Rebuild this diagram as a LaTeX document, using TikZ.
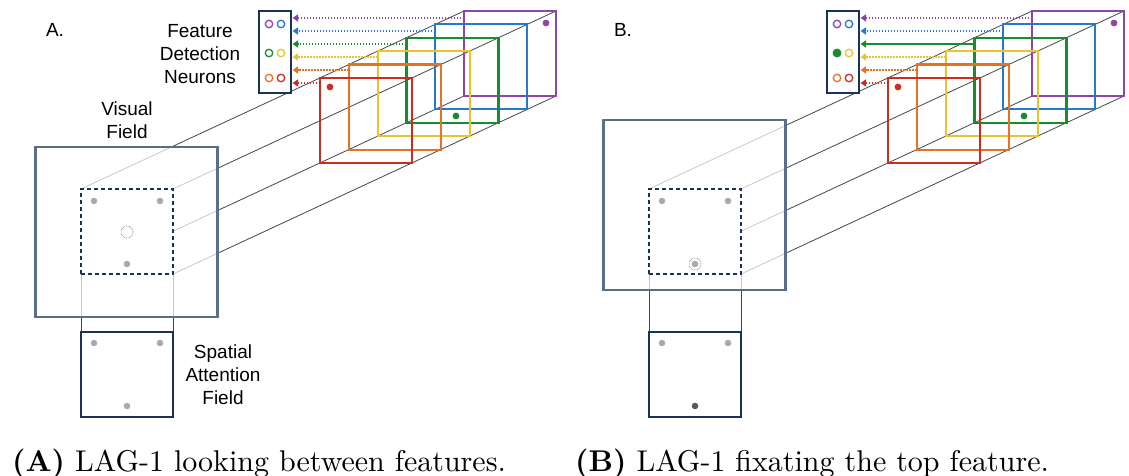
\documentclass[tikz,border=0pt]{standalone}
\usepackage{fontspec}
\setsansfont{Liberation Sans}
\newfontfamily\capfont{lmroman10-regular}[Extension=.otf, BoldFont=lmroman10-bold]
\usetikzlibrary{arrows.meta}
\pgfdeclarelayer{lines}
\pgfdeclarelayer{veil}
\pgfsetlayers{lines,veil,main}
\definecolor{cpur}{RGB}{140,70,170}
\definecolor{cblu}{RGB}{40,120,205}
\definecolor{cgrn}{RGB}{25,140,50}
\definecolor{cyel}{RGB}{235,195,45}
\definecolor{cora}{RGB}{230,115,35}
\definecolor{cred}{RGB}{205,45,30}
\definecolor{cnavy}{RGB}{25,50,90}
\definecolor{cvf}{RGB}{90,110,140}
\definecolor{cdot}{RGB}{170,170,170}
\definecolor{cline}{RGB}{70,70,70}
\tikzset{
  sq/.style={draw, line width=2.2pt, minimum width=92pt, minimum height=85pt, inner sep=0pt, outer sep=0pt},
  dsq/.style={draw=cnavy, fill=white, line width=2.6pt, dash pattern=on 4pt off 3pt, minimum width=92pt, minimum height=85pt, inner sep=0pt, outer sep=0pt},
  safield/.style={draw=cnavy, fill=white, line width=2.6pt, minimum width=92pt, minimum height=85pt, inner sep=0pt, outer sep=0pt},
  vfield/.style={draw=cvf, fill=white, fill opacity=0.7, line width=2.2pt, minimum width=182pt, minimum height=170pt, inner sep=0pt, outer sep=0pt},
  nbox/.style={draw=cnavy, fill=white, line width=2.6pt, minimum width=32pt, minimum height=82pt, inner sep=0pt, outer sep=0pt},
  neu/.style={circle, line width=1.3pt, minimum size=7.5pt, inner sep=0pt},
  persp/.style={draw=cline, line width=0.8pt},
  arr/.style={line width=2pt, dash pattern=on 1.5pt off 1.5pt, -{Triangle[length=5.5pt,width=7pt]}, shorten >=1.5pt},
  solidarr/.style={line width=2pt, -{Triangle[length=5.5pt,width=7pt]}, shorten >=1.5pt},
  lbl/.style={font={\sffamily\fontsize{19}{23}\selectfont}, align=center, inner sep=0pt},
  captxt/.style={font={\capfont\fontsize{30}{36}\selectfont}, inner sep=0pt, anchor=base west},
}
% #1 prefix, #2 xshift, #3 vf center y, #4 green arrow style, #5 green neuron fill, #6 label, #7 bottom attention dot colour
\newcommand\drawpanel[7]{%
\begin{scope}[xshift=#2]
  \node[dsq] (#1dash) at (127,231.5) {};
  \node[safield] (#1sa) at (127,374.5) {};
  \begin{pgfonlayer}{veil}
    \node[vfield] (#1vf) at (126.5,#3) {};
  \end{pgfonlayer}
  \node[sq,draw=cpur] (#1pur) at (510,53.5) {};
  \node[sq,draw=cblu] (#1blu) at (481.2,66.9) {};
  \node[sq,draw=cgrn] (#1grn) at (452.4,80.3) {};
  \node[sq,draw=cyel] (#1yel) at (423.6,93.7) {};
  \node[sq,draw=cora] (#1ora) at (394.8,107.1) {};
  \node[sq,draw=cred] (#1red) at (366,120.5) {};
  \begin{pgfonlayer}{lines}
    \draw[persp] (#1dash.north west) -- (#1pur.north west);
    \draw[persp] (#1dash.north east) -- (#1pur.north east);
    \draw[persp] (#1dash.south east) -- (#1pur.south east);
    \draw[persp] (#1dash.south west) -- (#1pur.south west);
    \draw[persp] (#1dash.south west) -- (#1sa.north west);
    \draw[persp] (#1dash.south east) -- (#1sa.north east);
  \end{pgfonlayer}
  % feature dots
  \fill[cpur] (546,23) circle (3.4pt);
  \fill[cgrn] (456,116) circle (3.4pt);
  \fill[cred] (330,87) circle (3.4pt);
  % dots in attended window
  \fill[cdot] (94,201) circle (3.3pt);
  \fill[cdot] (160,201) circle (3.3pt);
  \fill[cdot] (127,264) circle (3.3pt);
  % spatial attention field dots
  \fill[cdot] (94,343) circle (3.3pt);
  \fill[cdot] (160,343) circle (3.3pt);
  \fill[#7] (127,406) circle (3.3pt);
  % neurons
  \node[nbox] (#1neu) at (275,52) {};
  \node[neu, draw=cpur] (#1npur) at (269,24) {};
  \node[neu, draw=cblu] (#1nblu) at (281,24) {};
  \node[neu, draw=cgrn, fill=#5] (#1ngrn) at (269,53) {};
  \node[neu, draw=cyel] (#1nyel) at (281,53) {};
  \node[neu, draw=cora] (#1nora) at (269,78) {};
  \node[neu, draw=cred] (#1nred) at (281,78) {};
  % arrows
  \coordinate (#1apur) at ([yshift=-7pt]#1pur.north west);
  \coordinate (#1ablu) at ([yshift=-6.6pt]#1blu.north west);
  \coordinate (#1agrn) at ([yshift=-6.2pt]#1grn.north west);
  \coordinate (#1ayel) at ([yshift=-5.8pt]#1yel.north west);
  \coordinate (#1aora) at ([yshift=-5.4pt]#1ora.north west);
  \coordinate (#1ared) at ([yshift=-5pt]#1red.north west);
  \draw[arr, cpur] (#1apur) -- (#1apur -| #1neu.east);
  \draw[arr, cblu] (#1ablu) -- (#1ablu -| #1neu.east);
  \draw[#4, cgrn] (#1agrn) -- (#1agrn -| #1neu.east);
  \draw[arr, cyel] (#1ayel) -- (#1ayel -| #1neu.east);
  \draw[arr, cora] (#1aora) -- (#1aora -| #1neu.east);
  \draw[arr, cred] (#1ared) -- (#1ared -| #1neu.east);
  \node[lbl] (#1lab) at (55,30) {#6};
\end{scope}}

\begin{document}
\begin{tikzpicture}[x=1pt, y=-1pt]
\useasboundingbox (0,0) rectangle (1129,476);
\drawpanel{A}{0pt}{232}{arr}{white}{A.}{cdot}
\drawpanel{B}{568pt}{205}{solidarr}{cgrn}{B.}{black!65}
% panel A extras
\draw[cdot!80!black, line width=0.6pt, dash pattern=on 0.8pt off 0.8pt] (127,232) circle (6pt);
\node[lbl] (Afdn) at (200,54) {Feature\\Detection\\Neurons};
\node[lbl] (Avf) at (127,120) {Visual\\Field};
\node[lbl] (Asaf) at (223,375) {Spatial\\Attention\\Field};
% panel B extras
\draw[cdot!80!black, line width=0.6pt, dash pattern=on 0.8pt off 0.8pt] (695,264) circle (6pt);
% captions
\node[captxt] (capA) at (12,471) {\textbf{(A)} LAG-1 looking between features.};
\node[captxt] (capB) at (575,471) {\textbf{(B)} LAG-1 fixating the top feature.};
\end{tikzpicture}
\end{document}
